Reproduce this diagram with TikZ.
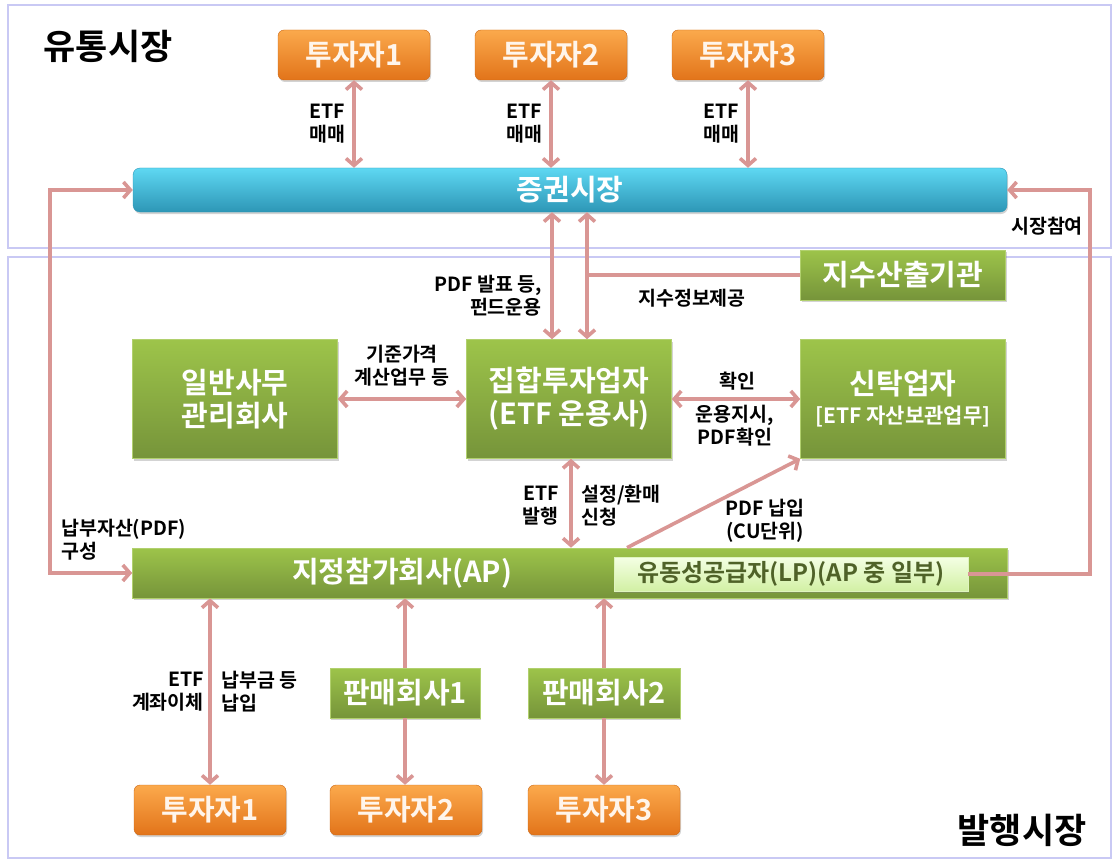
\documentclass[tikz,border=0pt]{standalone}
\usepackage{fontspec}
\setmainfont{Noto Sans CJK KR}[BoldFont={Noto Sans CJK KR Bold}]
\usetikzlibrary{arrows.meta,shadows}

\definecolor{framelav}{HTML}{C9C9F4}
\definecolor{arrowpink}{HTML}{D99694}
\definecolor{orangetop}{HTML}{FBA94C}
\definecolor{orangebot}{HTML}{E2741A}
\definecolor{greentop}{HTML}{9DC44A}
\definecolor{greenbot}{HTML}{76943A}
\definecolor{cyantop}{HTML}{5ED8F2}
\definecolor{cyanbot}{HTML}{2D96B6}
\definecolor{lptop}{HTML}{F4FFE4}
\definecolor{lpbot}{HTML}{D2F0A4}
\definecolor{lptext}{HTML}{4F6228}

\begin{document}
\begin{tikzpicture}[x=1pt,y=-1pt,
  frame/.style={draw=framelav,line width=1.3pt},
  title/.style={font=\fontsize{35}{40}\selectfont\bfseries,inner sep=0pt},
  lbl/.style={font=\fontsize{19.5}{23}\selectfont\bfseries,inner sep=0pt,align=center},
  boxtext/.style={font=\fontsize{29}{33}\selectfont\bfseries,text=white,align=center},
  orangebox/.style={boxtext,rounded corners=6pt,top color=orangetop,bottom color=orangebot,
    draw=orangebot!90!black,line width=0.4pt,minimum width=152pt,minimum height=50pt,text=orange!8,
    drop shadow={opacity=0.35,shadow xshift=1pt,shadow yshift=-2pt}},
  greenbox/.style={boxtext,top color=greentop,bottom color=greenbot,draw=greentop!80!white,
    line width=0.6pt,minimum width=205pt,minimum height=119pt,
    drop shadow={opacity=0.35,shadow xshift=1pt,shadow yshift=-2pt}},
  arr/.style={draw=arrowpink,line width=3.6pt,>={Straight Barb[length=7pt,width=16pt]}}]
\useasboundingbox (0,0) rectangle (1118,861);
% two market areas
\draw[frame] (8,5) rectangle (1111,248);
\draw[frame] (8,257) rectangle (1111,858);
\node[title] (tflow) at (108,46) {유통시장};
\node[title] (tissue) at (1022,830) {발행시장};

% secondary market
\foreach \i/\x in {1/354,2/551,3/748}{
\node[orangebox] (inv\i) at (\x,55) {투자자\i};}
\node[boxtext,rounded corners=7pt,top color=cyantop,bottom color=cyanbot,draw=cyanbot,line width=0.4pt,
  minimum width=874pt,minimum height=44pt,drop shadow={opacity=0.35,shadow xshift=1pt,shadow yshift=-2pt}] (mkt) at (570,190) {증권시장};
\foreach \i in {1,2,3}{
\draw[arr,<->] (inv\i.south) -- (inv\i.south|-mkt.north) node[lbl,midway,left=7pt,align=right] {ETF\\매매};}

% primary market
\node[greenbox,minimum height=50pt] (idx) at (903,275) {지수산출기관};
\node[greenbox] (admin) at (235,399) {일반사무\\관리회사};
\node[greenbox] (amc) at (569,399) {집합투자업자\\(ETF 운용사)};
\node[greenbox] (trust) at (903,399) {신탁업자\\[-4pt]{\fontsize{21}{26}\selectfont[ETF 자산보관업무]}};
\node[greenbox,minimum width=875pt,minimum height=50pt] (ap) at (570,573) {};
\node[boxtext] (aptext) at (402,573) {지정참가회사(AP)};
\node[font=\fontsize{24}{28}\selectfont\bfseries,text=lptext,top color=lptop,bottom color=lpbot,draw=lpbot!70!white,
  minimum width=354pt,minimum height=34pt,inner sep=0pt,drop shadow={opacity=0.35,shadow xshift=1pt,shadow yshift=-2pt}] (lp) at (791,574) {유동성공급자(LP)(AP 중 일부)};
\node[greenbox,minimum width=150pt,minimum height=50pt] (sell1) at (405,693) {판매회사1};
\node[greenbox,minimum width=152pt,minimum height=50pt] (sell2) at (604,693) {판매회사2};
\node[orangebox] (binv1) at (210,810) {투자자1};
\node[orangebox] (binv2) at (406,810) {투자자2};
\node[orangebox] (binv3) at (604,810) {투자자3};

\coordinate (amcL) at ([xshift=-17pt]amc.north);
\coordinate (amcR) at ([xshift=18pt]amc.north);
\draw[arr,<->] (amcL) -- (amcL|-mkt.south);
\draw[arr,<->] (amcR) -- (amcR|-mkt.south);
\draw[arr] (idx.west) -- (idx.west-|amcR);
\draw[arr,<->] (admin.east) -- (amc.west);
\draw[arr,<->] (amc.east) -- (trust.west);
\draw[arr,<->] ([xshift=2pt]amc.south) -- ([xshift=2pt]amc.south|-ap.north);
\draw[arr,->] ([xshift=57pt]ap.north) -- (trust.south west);
\draw[arr,<->] (mkt.west) -- ++(-83,0) |- (ap.west);
\draw[arr,->] (lp.east) -- ++(122,0) |- (mkt.east);
\draw[arr,<->] (binv1.north|-ap.south) -- (binv1.north);
\draw[arr,->] (sell1.north) -- (sell1.north|-ap.south);
\draw[arr,->] (sell1.south) -- (sell1.south|-binv2.north);
\draw[arr,->] (sell2.north) -- (sell2.north|-ap.south);
\draw[arr,->] (sell2.south) -- (sell2.south|-binv3.north);

% labels
\node[lbl,anchor=east,align=right] (lpdf) at (542,296) {PDF 발표 등,\\펀드운용};
\node[lbl] (lidx) at (692,298) {지수정보제공};
\node[lbl] (lnav) at (402,366) {기준가격\\계산업무 등};
\node[lbl] (lchk) at (737,381) {확인};
\node[lbl] (lord) at (735,426) {운용지시,\\PDF확인};
\node[lbl,anchor=east,align=right] (lissue) at (559,506) {ETF\\발행};
\node[lbl,anchor=west,align=left] (lred) at (581,506) {설정/환매\\신청};
\node[lbl] (lcu) at (765,521) {PDF 납입\\(CU단위)};
\node[lbl,anchor=west,align=left] (lbasket) at (61,540) {납부자산(PDF)\\구성};
\node[lbl] (lpart) at (1047,226) {시장참여};
\node[lbl,anchor=east,align=right] (ltrans) at (204,692) {ETF\\계좌이체};
\node[lbl,anchor=west,align=left] (lpay) at (221,692) {납부금 등\\납입};
\end{tikzpicture}
\end{document}
